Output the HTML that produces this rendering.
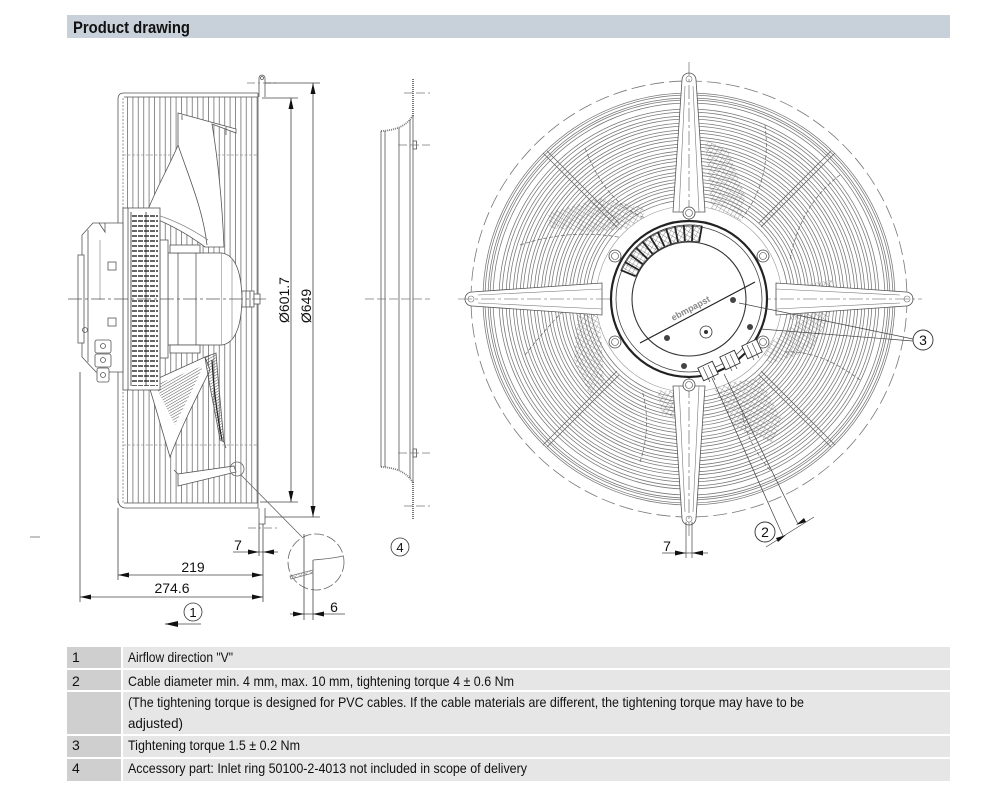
<!DOCTYPE html>
<html><head><meta charset="utf-8"><style>
html,body{margin:0;padding:0;background:#fff;}
svg{display:block;}
text{font-family:"Liberation Sans",Arial,sans-serif;}
</style></head><body>
<svg width="1000" height="800" viewBox="0 0 1000 800" xmlns="http://www.w3.org/2000/svg">
<defs>
<pattern id="bars" x="127" y="0" width="5.4" height="10" patternUnits="userSpaceOnUse"><line x1="0.5" y1="0" x2="0.5" y2="10" stroke="#808080" stroke-width="0.9"/></pattern>
<pattern id="hx" width="4" height="4" patternUnits="userSpaceOnUse" patternTransform="rotate(30)"><path d="M0,0 L0,4 M0,0 L4,0" stroke="#6a6a6a" stroke-width="0.7" fill="none"/></pattern>
<pattern id="hd" width="2.5" height="2.5" patternUnits="userSpaceOnUse" patternTransform="rotate(60)"><path d="M0,0 L0,2.5" stroke="#444" stroke-width="0.9"/></pattern>
<pattern id="fins" width="6" height="5" patternUnits="userSpaceOnUse"><rect x="0" y="0" width="5" height="2" fill="#666"/></pattern>
</defs>

<!-- Header -->
<rect x="67" y="15" width="883" height="23" fill="#c8d0d9"/>
<text x="73" y="33" font-size="17" font-weight="bold" fill="#111" textLength="117" lengthAdjust="spacingAndGlyphs">Product drawing</text>

<line x1="30" y1="537" x2="40" y2="537" stroke="#888" stroke-width="1"/>

<!-- ================= SIDE VIEW ================= -->
<g fill="none" stroke="#555" stroke-width="0.8">
  <rect x="124" y="97" width="134" height="406" fill="url(#bars)" stroke="none"/>
  <line x1="123" y1="98" x2="123" y2="503" stroke="#777" stroke-dasharray="2 1.5"/>
  <path d="M118,503 L118,99 Q118,93 124,93 L258,93"/>
  <line x1="124" y1="97" x2="258" y2="97"/>
  <path d="M118,498 Q118,508 126,508 L258,508"/>
  <line x1="124" y1="503" x2="258" y2="503"/>
  <line x1="258" y1="93" x2="258" y2="508"/>
  <line x1="123" y1="155" x2="258" y2="155" stroke="#999" stroke-dasharray="3 1.5"/>
  <line x1="123" y1="445" x2="258" y2="445" stroke="#999" stroke-dasharray="3 1.5"/>
  <path d="M259,97 L259,78 A3,3 0 0 1 265,78 L265,97"/>
  <circle cx="262" cy="78" r="1.5"/>
  <path d="M259,508 L259,524 L265,524 L265,508"/>
  <line x1="247" y1="83" x2="277" y2="83" stroke="#777" stroke-dasharray="8 3 2 3"/>
  <line x1="248" y1="528" x2="278" y2="528" stroke="#777" stroke-dasharray="8 3 2 3"/>

  <path d="M178,113 L236,129 L236,133 L212,124 C218,160 222,200 224,247 L205,247 C185,232 165,222 146,215 C155,190 170,165 178,145 Z" fill="#fff"/>
  <path d="M178,145 C190,180 203,210 207,245"/>
  <path d="M150,213 C170,218 190,228 208,240" stroke="#888"/>
  <path d="M182,115 L182,120 M226,127 L226,135" />

  <path d="M148,383 L205,357 L210,370 C195,400 180,430 170,457 C162,430 155,405 148,383 Z" fill="#fff"/>
  <path d="M155,385 L203,366 C192,392 182,410 175,425 Z" fill="url(#hd)" stroke="none"/>
  <path d="M205,357 L216,353 C219,390 222,420 224,442 L220,440 C215,410 209,385 205,357 Z" fill="url(#hd)"/>
  <path d="M212,360 C214,395 218,420 222,440" stroke="#222" stroke-width="1.2"/>
  <path d="M178,486 L178,474 L234,466 L236,472 Z" fill="#fff"/>
  <line x1="178" y1="474" x2="174" y2="470"/>
  <line x1="224" y1="442" x2="226" y2="448"/>

  <rect x="168" y="253" width="54" height="92" fill="#fff"/>
  <path d="M222,253 Q241,256 242,299 Q241,342 222,345" fill="#fff"/>
  <line x1="178" y1="253" x2="178" y2="345"/>
  <line x1="196" y1="253" x2="196" y2="345"/>
  <line x1="232" y1="258" x2="232" y2="340" stroke="#999"/>
  <rect x="170" y="245" width="30" height="8" fill="#fff"/>
  <rect x="170" y="345" width="30" height="8" fill="#fff"/>
  <rect x="242" y="291" width="12" height="16" fill="#fff"/>
  <rect x="254" y="294" width="6" height="10" fill="#fff"/>
  <line x1="246" y1="291" x2="246" y2="307"/>
  <line x1="250" y1="291" x2="250" y2="307"/>
  <rect x="160" y="240" width="8" height="118" fill="#fff"/>
  <rect x="123" y="208" width="37" height="182" fill="#fff"/>
  <rect x="131" y="212" width="27" height="174" fill="url(#fins)" stroke="none"/>
  <line x1="128" y1="208" x2="128" y2="390"/>
  <line x1="131" y1="212" x2="131" y2="386" stroke="#333"/>
  <line x1="146" y1="212" x2="146" y2="386" stroke="#333"/>
  <path d="M93,223 L123,223 L123,372 L96,372 L82,357 L82,235 Z" fill="#fff"/>
  <line x1="88" y1="230" x2="88" y2="362"/>
  <path d="M99,223 L105,232 L105,223" />
  <rect x="78" y="255" width="6" height="88" fill="#fff"/>
  <line x1="100" y1="240" x2="100" y2="300" stroke="#999"/>
  <circle cx="85" cy="330" r="2.5"/>
  <rect x="108" y="262" width="8" height="8" fill="#fff"/>
  <rect x="108" y="318" width="8" height="8" fill="#fff"/>
  <rect x="95" y="340" width="16" height="13" rx="2" fill="#fff"/>
  <rect x="95" y="354" width="16" height="13" rx="2" fill="#fff"/>
  <rect x="97" y="368" width="12" height="14" rx="2" fill="#fff"/>
  <circle cx="103" cy="346" r="2.5"/>
  <circle cx="103" cy="360" r="2.5"/>
  <circle cx="103" cy="375" r="2.5"/>
</g>
<line x1="68" y1="299" x2="268" y2="299" stroke="#555" stroke-width="0.7" stroke-dasharray="14 3 3 3"/>

<g stroke="#444" stroke-width="0.8" fill="none">
  <line x1="262" y1="98" x2="298" y2="98"/>
  <line x1="260" y1="502" x2="298" y2="502"/>
  <line x1="265" y1="83" x2="320" y2="83"/>
  <line x1="265" y1="517" x2="320" y2="517"/>
  <line x1="291" y1="98" x2="291" y2="502"/>
  <line x1="313" y1="83" x2="313" y2="517"/>
  <line x1="80" y1="372" x2="80" y2="602"/>
  <line x1="118" y1="508" x2="118" y2="580"/>
  <line x1="263" y1="524" x2="263" y2="602"/>
  <line x1="259" y1="524" x2="259" y2="556"/>
  <line x1="118" y1="575" x2="263" y2="575"/>
  <line x1="80" y1="597" x2="263" y2="597"/>
  <line x1="233" y1="552" x2="278" y2="552"/>
  <circle cx="237" cy="469" r="7" stroke="#666"/>
  <line x1="241" y1="475" x2="302" y2="537" stroke="#666"/>
  <circle cx="316" cy="562" r="28" stroke="#666" stroke-dasharray="10 3"/>
  <line x1="304" y1="534" x2="304" y2="620"/>
  <line x1="313" y1="560" x2="313" y2="620"/>
  <path d="M313,560 C325,559 335,558 343,556" stroke="#666"/>
  <path d="M290,576 L313,570 L313,573 L291,579 Z" fill="url(#hx)" stroke="#777"/>
  <line x1="290" y1="614" x2="345" y2="614"/>
  <circle cx="193" cy="612" r="9" stroke="#333"/>
  <line x1="165" y1="624" x2="201" y2="624"/>
</g>
<g fill="#111">
  <path d="M291,98 L288.5,109 L293.5,109 Z"/>
  <path d="M291,502 L288.5,491 L293.5,491 Z"/>
  <path d="M313,83 L310.5,94 L315.5,94 Z"/>
  <path d="M313,517 L310.5,506 L315.5,506 Z"/>
  <path d="M118,575 L129,572.5 L129,577.5 Z"/>
  <path d="M263,575 L252,572.5 L252,577.5 Z"/>
  <path d="M80,597 L91,594.5 L91,599.5 Z"/>
  <path d="M263,597 L252,594.5 L252,599.5 Z"/>
  <path d="M259,552 L248,549.5 L248,554.5 Z"/>
  <path d="M263,552 L274,549.5 L274,554.5 Z"/>
  <path d="M304,614 L293,611.5 L293,616.5 Z"/>
  <path d="M313,614 L324,611.5 L324,616.5 Z"/>
  <path d="M165,624 L178,621 L178,627 Z"/>
</g>
<g font-size="14" fill="#111" text-anchor="middle">
  <text x="193" y="572">219</text>
  <text x="172" y="593">274.6</text>
  <text x="238" y="550">7</text>
  <text x="334" y="612">6</text>
  <text x="193" y="617" font-size="13">1</text>
  <text transform="translate(289,300) rotate(-90)">Ø601.7</text>
  <text transform="translate(311,306) rotate(-90)">Ø649</text>
</g>

<!-- ================= INLET RING ================= -->
<g fill="none" stroke="#555" stroke-width="0.8">
  <line x1="413" y1="79" x2="413" y2="116" stroke="#777" stroke-width="2" stroke-dasharray="1 1"/>
  <line x1="413" y1="482" x2="413" y2="519" stroke="#777" stroke-width="2" stroke-dasharray="1 1"/>
  <path d="M381,131 Q405,130 413,115" stroke="#777" stroke-width="1.8" stroke-dasharray="1 1"/>
  <path d="M381,467 Q405,468 413,483" stroke="#777" stroke-width="1.8" stroke-dasharray="1 1"/>
  <line x1="381" y1="131" x2="381" y2="467"/>
  <line x1="385" y1="131" x2="385" y2="467"/>
  <line x1="399" y1="128" x2="399" y2="470"/>
  <line x1="410" y1="120" x2="410" y2="478"/>
  <line x1="413" y1="115" x2="413" y2="483"/>
  <rect x="413" y="141" width="3.5" height="8"/>
  <rect x="413" y="449" width="3.5" height="8"/>
  <g stroke="#777" stroke-dasharray="9 3">
    <line x1="404" y1="93" x2="430" y2="93"/>
    <line x1="398" y1="145" x2="430" y2="145"/>
    <line x1="365" y1="299" x2="430" y2="299"/>
    <line x1="398" y1="453" x2="430" y2="453"/>
    <line x1="404" y1="506" x2="430" y2="506"/>
  </g>
  <circle cx="400" cy="547" r="9" stroke="#333"/>
</g>
<text x="400" y="552" font-size="13" text-anchor="middle" fill="#111">4</text>

<!-- ================= FRONT VIEW ================= -->
<g fill="none">
  <circle cx="689" cy="299" r="218" stroke="#777" stroke-width="0.8" stroke-dasharray="14 5"/>
  <g stroke="#767676" stroke-width="0.75">
    <circle cx="689" cy="299" r="206"/><circle cx="689" cy="299" r="204"/><circle cx="689" cy="299" r="201"/>
    <circle cx="689" cy="299" r="199"/><circle cx="689" cy="299" r="196"/>
    <circle cx="689" cy="299" r="190"/><circle cx="689" cy="299" r="187"/>
    <circle cx="689" cy="299" r="183"/><circle cx="689" cy="299" r="180"/>
    <circle cx="689" cy="299" r="176"/><circle cx="689" cy="299" r="173"/>
    <circle cx="689" cy="299" r="169"/><circle cx="689" cy="299" r="166"/>
    <circle cx="689" cy="299" r="162"/><circle cx="689" cy="299" r="159"/>
    <circle cx="689" cy="299" r="155"/><circle cx="689" cy="299" r="152"/>
    <circle cx="689" cy="299" r="148"/><circle cx="689" cy="299" r="145"/>
    <circle cx="689" cy="299" r="141"/><circle cx="689" cy="299" r="138"/>
    <circle cx="689" cy="299" r="134"/><circle cx="689" cy="299" r="131"/>
    <circle cx="689" cy="299" r="127"/><circle cx="689" cy="299" r="124"/>
    <circle cx="689" cy="299" r="120"/><circle cx="689" cy="299" r="117"/>
    <circle cx="689" cy="299" r="113"/><circle cx="689" cy="299" r="110"/>
    <circle cx="689" cy="299" r="106"/><circle cx="689" cy="299" r="103"/>
    <circle cx="689" cy="299" r="99"/>
  </g>
  <g fill="url(#hx)" stroke="none" opacity="0.85">
    <path d="M705,140 L728,150 L745,195 L740,228 L712,215 Z"/>
    <path d="M548,213 L600,198 L645,208 L640,228 L590,232 L550,228 Z"/>
    <path d="M785,288 L832,280 L828,318 L790,320 Z"/>
    <path d="M800,320 L828,318 L812,350 L770,364 L760,350 Z"/>
    <path d="M578,312 L600,316 L604,380 L590,396 L574,360 Z"/>
    <path d="M712,385 L760,378 L782,420 L772,442 L735,428 Z"/>
    <path d="M657,390 L680,392 L680,418 L662,415 Z"/>
  </g>
  <g stroke="#666" stroke-width="0.7" stroke-dasharray="4 2">
    <path d="M585,148 Q610,215 662,222"/>
    <path d="M520,245 Q580,225 640,242"/>
    <path d="M525,355 Q560,310 592,285"/>
    <path d="M640,462 Q652,425 642,390"/>
    <path d="M765,125 Q772,180 742,218"/>
    <path d="M840,175 Q800,205 790,260"/>
    <path d="M860,380 Q820,350 785,352"/>
    <path d="M770,470 Q745,440 742,410"/>
  </g>
  <g stroke="#666" stroke-width="0.8">
    <line x1="543" y1="153" x2="617" y2="227"/><line x1="547" y1="151" x2="619" y2="223"/>
    <line x1="835" y1="153" x2="761" y2="227"/><line x1="831" y1="151" x2="759" y2="223"/>
    <line x1="543" y1="445" x2="617" y2="371"/><line x1="547" y1="447" x2="619" y2="375"/>
    <line x1="835" y1="445" x2="761" y2="371"/><line x1="831" y1="447" x2="759" y2="375"/>
  </g>
  <circle cx="689" cy="299" r="93" fill="#fff" stroke="#999" stroke-width="0.6"/>
  <g fill="#fff" stroke="#555" stroke-width="0.8">
    <path d="M673,212 L682,80 A7,7 0 0 1 696,80 L705,212 Z"/>
    <path d="M673,386 L682,518 A7,7 0 0 0 696,518 L705,386 Z"/>
    <path d="M602,283 L472,292 A7,7 0 0 0 472,306 L602,315 Z"/>
    <path d="M776,283 L906,292 A7,7 0 0 1 906,306 L776,315 Z"/>
  </g>
  <g stroke="#777" stroke-width="0.6">
    <path d="M679,212 L685,86 M699,212 L693,86"/>
    <path d="M679,386 L685,512 M699,386 L693,512"/>
    <path d="M602,289 L478,295 M602,309 L478,303"/>
    <path d="M776,289 L900,295 M776,309 L900,303"/>
    <circle cx="689" cy="79" r="3"/><circle cx="689" cy="519" r="3"/>
    <circle cx="471" cy="299" r="3"/><circle cx="907" cy="299" r="3"/>
  </g>
  <line x1="458" y1="299" x2="922" y2="299" stroke="#555" stroke-width="0.6" stroke-dasharray="14 3 3 3"/>
  <line x1="689" y1="62" x2="689" y2="538" stroke="#555" stroke-width="0.6" stroke-dasharray="14 3 3 3"/>
  <g fill="#fff" stroke="#444" stroke-width="0.8">
    <circle cx="689" cy="213" r="6"/><circle cx="689" cy="385" r="6"/>
    <circle cx="763" cy="256" r="6"/><circle cx="615" cy="256" r="6"/>
    <circle cx="615" cy="342" r="6"/><circle cx="763" cy="342" r="6"/>
  </g>
  <g fill="none" stroke="#444" stroke-width="0.6">
    <circle cx="689" cy="213" r="3.5"/><circle cx="689" cy="385" r="3.5"/>
    <circle cx="763" cy="256" r="3.5"/><circle cx="615" cy="256" r="3.5"/>
    <circle cx="615" cy="342" r="3.5"/><circle cx="763" cy="342" r="3.5"/>
  </g>
  <circle cx="689" cy="299" r="78" fill="#fff" stroke="#222" stroke-width="2.2"/>
  <circle cx="689" cy="299" r="73" stroke="#444" stroke-width="0.8"/>
  <circle cx="689" cy="299" r="57" stroke="#333" stroke-width="1.1"/>
  <path d="M699,242 A58,58 0 0 0 636,276 L621,270 A74,74 0 0 1 702,226 Z" fill="url(#hx)" stroke="#333" stroke-width="0.8"/>
  <g stroke="#222" stroke-width="1.8">
    <line x1="699.1" y1="241.9" x2="701.9" y2="226.1"/>
    <line x1="692.0" y1="241.1" x2="692.8" y2="225.1"/>
    <line x1="684.9" y1="241.1" x2="683.8" y2="225.2"/>
    <line x1="677.9" y1="242.0" x2="674.9" y2="226.3"/>
    <line x1="671.1" y1="243.8" x2="666.1" y2="228.6"/>
    <line x1="664.5" y1="246.5" x2="657.7" y2="232.0"/>
    <line x1="658.3" y1="249.8" x2="649.8" y2="236.2"/>
    <line x1="652.5" y1="253.9" x2="642.5" y2="241.5"/>
    <line x1="647.3" y1="258.7" x2="635.8" y2="247.6"/>
    <line x1="642.7" y1="264.1" x2="629.9" y2="254.5"/>
    <line x1="638.8" y1="270.0" x2="624.9" y2="262.0"/>
    <line x1="635.6" y1="276.3" x2="620.8" y2="270.1"/>
  </g>
  <line x1="640" y1="343" x2="755" y2="282" stroke="#222" stroke-width="1.2"/>
  <g fill="#444">
    <circle cx="733" cy="300" r="3"/><circle cx="667" cy="338" r="3"/>
    <circle cx="750" cy="327" r="3"/><circle cx="684" cy="366" r="3"/>
  </g>
  <circle cx="706" cy="332" r="6" stroke="#333" stroke-width="0.8"/>
  <circle cx="706" cy="332" r="2" fill="#333"/>
  <g fill="#fff" stroke="#333" stroke-width="0.9">
    <rect x="700" y="364" width="16" height="14" transform="rotate(-25 708 371)"/>
    <rect x="722" y="353" width="16" height="14" transform="rotate(-25 730 360)"/>
    <rect x="744" y="342" width="16" height="14" transform="rotate(-25 752 349)"/>
  </g>
  <g stroke="#333" stroke-width="0.6">
    <line x1="703" y1="367" x2="710" y2="382"/><line x1="708" y1="365" x2="715" y2="380"/>
    <line x1="725" y1="356" x2="732" y2="371"/><line x1="730" y1="354" x2="737" y2="369"/>
    <line x1="747" y1="345" x2="754" y2="360"/><line x1="752" y1="343" x2="759" y2="358"/>
  </g>
  <g stroke="#444" stroke-width="0.7">
    <line x1="739" y1="303" x2="913" y2="339"/>
    <line x1="760" y1="329" x2="913" y2="341"/>
    <line x1="712" y1="378" x2="783" y2="536"/>
    <line x1="724" y1="374" x2="798" y2="524"/>
    <line x1="766" y1="547" x2="814" y2="517"/>
    <line x1="686" y1="522" x2="686" y2="558"/>
    <line x1="692" y1="522" x2="692" y2="558"/>
    <line x1="662" y1="553" x2="708" y2="553"/>
  </g>
  <circle cx="923" cy="340" r="10" stroke="#333" stroke-width="0.9"/>
  <circle cx="765" cy="532" r="10" stroke="#333" stroke-width="0.9"/>
</g>
<g fill="#111">
  <path d="M786,535 L776,538 L778,542 Z"/>
  <path d="M796,525 L806,522 L804,518 Z"/>
  <path d="M686,553 L675,550.5 L675,555.5 Z"/>
  <path d="M692,553 L703,550.5 L703,555.5 Z"/>
</g>
<text transform="translate(692,311) rotate(-28)" font-size="9" font-weight="bold" fill="#888" text-anchor="middle">ebmpapst</text>
<g font-size="14" fill="#111" text-anchor="middle">
  <text x="923" y="345">3</text>
  <text x="765" y="537">2</text>
  <text x="667" y="551">7</text>
</g>

<!-- ================= TABLE ================= -->
<g>
  <rect x="67" y="647" width="54" height="21" fill="#cfcfcf"/>
  <rect x="123" y="647" width="827" height="21" fill="#e6e6e6"/>
  <rect x="67" y="670" width="54" height="20" fill="#cfcfcf"/>
  <rect x="123" y="670" width="827" height="20" fill="#e6e6e6"/>
  <rect x="67" y="692" width="54" height="42" fill="#cfcfcf"/>
  <rect x="123" y="692" width="827" height="42" fill="#e6e6e6"/>
  <rect x="67" y="736" width="54" height="21" fill="#cfcfcf"/>
  <rect x="123" y="736" width="827" height="21" fill="#e6e6e6"/>
  <rect x="67" y="759" width="54" height="22" fill="#cfcfcf"/>
  <rect x="123" y="759" width="827" height="22" fill="#e6e6e6"/>
</g>
<g font-size="14" fill="#111">
  <text x="72" y="662">1</text>
  <text x="72" y="686">2</text>
  <text x="72" y="750">3</text>
  <text x="72" y="773">4</text>
  <text x="128" y="662" textLength="105" lengthAdjust="spacingAndGlyphs">Airflow direction "V"</text>
  <text x="128" y="686" textLength="386" lengthAdjust="spacingAndGlyphs">Cable diameter min. 4 mm, max. 10 mm, tightening torque 4 ± 0.6 Nm</text>
  <text x="128" y="707" textLength="676" lengthAdjust="spacingAndGlyphs">(The tightening torque is designed for PVC cables. If the cable materials are different, the tightening torque may have to be</text>
  <text x="128" y="728" textLength="55" lengthAdjust="spacingAndGlyphs">adjusted)</text>
  <text x="128" y="750" textLength="172" lengthAdjust="spacingAndGlyphs">Tightening torque 1.5 ± 0.2 Nm</text>
  <text x="128" y="773" textLength="399" lengthAdjust="spacingAndGlyphs">Accessory part: Inlet ring 50100-2-4013 not included in scope of delivery</text>
</g>
</svg>
</body></html>
